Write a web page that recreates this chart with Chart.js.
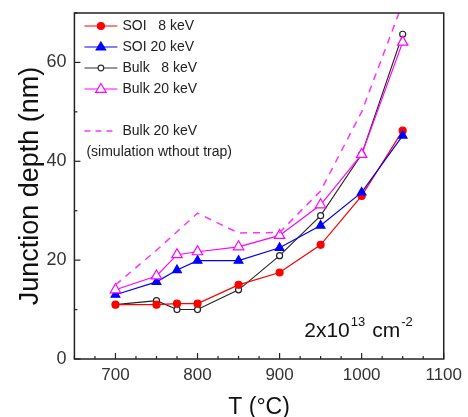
<!DOCTYPE html>
<html>
<head>
<meta charset="utf-8">
<script src="https://cdn.jsdelivr.net/npm/chart.js@4"></script>
<style>
  html, body { margin: 0; padding: 0; background: #fff; }
  #wrap { width: 468px; height: 417px; }
</style>
</head>
<body>
<div id="wrap"><canvas id="myChart" width="468" height="417"></canvas></div>
<script>
    // datos
    const temps = [700, 750, 775, 800, 850, 900, 950, 1000, 1050];
    const soi8 = [11.0, 11.0, 11.2, 11.2, 15.0, 17.5, 23.1, 33.0, 46.2];
    const soi20 = [13.0, 15.6, 18.0, 19.9, 19.9, 22.5, 27.0, 33.7, 45.2];
    const bulk8 = [11.0, 11.8, 10.0, 10.0, 14.0, 20.9, 29.0, 41.4, 65.7];
    const bulk20 = [14.0, 16.8, 21.1, 21.7, 22.7, 25.0, 31.2, 41.4, 64.1];
    const simTemps = [700, 750, 800, 850, 900, 950, 1000, 1050];
    const bulk20Sim = [15.0, 22.0, 29.5, 25.5, 25.6, 34.0, 50.0, 72.0];
    const xLabels = [700, 800, 900, 1000, 1100];
    const yLabels = [0, 20, 40, 60];

    const FONT = "'Liberation Sans', Arial, sans-serif";
    Chart.defaults.font.family = FONT;
    Chart.defaults.color = '#222';

    const pts = (xs, ys) => xs.map((x, i) => ({ x: x, y: ys[i] }));

    // leyenda, marco, ticks hacia adentro y la anotacion de dosis
    const extras = {
        id: 'extras',
        afterDraw(chart) {
            const c = chart.ctx;
            const a = chart.chartArea;
            const xs = chart.scales.x, ys = chart.scales.y;
            c.save();
            // marco
            c.strokeStyle = '#222';
            c.lineWidth = 1.5;
            c.strokeRect(a.left, a.top, a.right - a.left, a.bottom - a.top);
            // ticks
            c.lineWidth = 1.2;
            xs.ticks.forEach(t => {
                const px = xs.getPixelForValue(t.value);
                const len = t.value % 100 === 0 ? 6 : 3;
                c.beginPath(); c.moveTo(px, a.bottom); c.lineTo(px, a.bottom - len); c.stroke();
            });
            ys.ticks.forEach(t => {
                const py = ys.getPixelForValue(t.value);
                const len = t.value % 20 === 0 ? 6 : 3;
                c.beginPath(); c.moveTo(a.left, py); c.lineTo(a.left + len, py); c.stroke();
            });

            // leyenda
            const items = [
                { label: 'SOI   8 keV', color: '#ff0000', mark: 'circle', fill: true, r: 3.5 },
                { label: 'SOI 20 keV', color: '#0000ff', mark: 'tri', fill: true, r: 5 },
                { label: 'Bulk   8 keV', color: '#333333', mark: 'circle', fill: false, r: 2.8 },
                { label: 'Bulk 20 keV', color: '#ff00ff', mark: 'tri', fill: false, r: 5.5 },
                null,
                { label: 'Bulk 20 keV', color: '#ff33ff', dash: true }
            ];
            const lx0 = a.left + 10, lx1 = a.left + 43, tx = a.left + 48;
            let ty = a.top + 13;
            c.font = '14px ' + FONT;
            c.textBaseline = 'middle';
            items.forEach(it => {
                if (!it) { ty += 21; return; }
                c.strokeStyle = it.color;
                c.lineWidth = it.dash ? 1.5 : 1.2;
                c.setLineDash(it.dash ? [6, 5] : []);
                c.beginPath(); c.moveTo(lx0, ty); c.lineTo(lx1, ty); c.stroke();
                c.setLineDash([]);
                const mx = (lx0 + lx1) / 2;
                if (it.mark) {
                    c.fillStyle = it.fill ? it.color : '#fff';
                    c.beginPath();
                    if (it.mark === 'circle') {
                        c.arc(mx, ty, it.r, 0, Math.PI * 2);
                    } else {
                        c.moveTo(mx, ty - it.r);
                        c.lineTo(mx + it.r * 0.95, ty + it.r * 0.6);
                        c.lineTo(mx - it.r * 0.95, ty + it.r * 0.6);
                        c.closePath();
                    }
                    c.fill(); c.stroke();
                }
                c.fillStyle = '#222';
                c.fillText(it.label, tx, ty);
                ty += 21;
            });
            c.fillText('(simulation wthout trap)', a.left + 12, ty);

            // dosis 2x10^13 cm^-2
            const bx = xs.getPixelForValue(930), by = ys.getPixelForValue(4.5);
            c.textBaseline = 'alphabetic';
            c.fillStyle = '#111';
            c.font = '21px ' + FONT;
            let x = bx;
            c.fillText('2x10', x, by); x += c.measureText('2x10').width + 1;
            c.font = '13px ' + FONT;
            c.fillText('13', x, by - 11); x += c.measureText('13').width + 7;
            c.font = '21px ' + FONT;
            c.fillText('cm', x, by); x += c.measureText('cm').width + 1;
            c.font = '13px ' + FONT;
            c.fillText('-2', x, by - 11);
            c.restore();
        }
    };

    const ctx = document.getElementById('myChart').getContext('2d');
    const myChart = new Chart(ctx, {
        type: 'line',
        data: {
            datasets: [
                {
                    label: 'Bulk 20 keV (simulation)',
                    data: pts(simTemps, bulk20Sim),
                    borderColor: '#ff33ff',
                    borderWidth: 1.5,
                    borderDash: [7, 6],
                    pointRadius: 0,
                    fill: false
                },
                {
                    label: 'Bulk 20 keV',
                    data: pts(temps, bulk20),
                    borderColor: '#ff00ff',
                    backgroundColor: '#ffffff',
                    borderWidth: 1.2,
                    pointStyle: 'triangle',
                    pointRadius: 6,
                    pointBorderWidth: 1.2,
                    fill: false
                },
                {
                    label: 'SOI 20 keV',
                    data: pts(temps, soi20),
                    borderColor: '#0000ff',
                    backgroundColor: '#0000ff',
                    borderWidth: 1.2,
                    pointStyle: 'triangle',
                    pointRadius: 5,
                    fill: false
                },
                {
                    label: 'SOI 8 keV',
                    data: pts(temps, soi8),
                    borderColor: '#ff0000',
                    backgroundColor: '#ff0000',
                    borderWidth: 1.2,
                    pointStyle: 'circle',
                    pointRadius: 3.5,
                    fill: false
                },
                {
                    label: 'Bulk 8 keV',
                    data: pts(temps, bulk8),
                    borderColor: '#222222',
                    backgroundColor: '#ffffff',
                    borderWidth: 1.1,
                    pointStyle: 'circle',
                    pointRadius: 3,
                    pointBorderWidth: 1.2,
                    fill: false
                }
            ]
        },
        options: {
            responsive: false,
            animation: false,
            layout: { padding: { left: 14, right: 3, top: 13, bottom: 0 } },
            plugins: {
                legend: { display: false },
                tooltip: { enabled: false }
            },
            scales: {
                x: {
                    type: 'linear',
                    min: 650,
                    max: 1100,
                    border: { display: false },
                    grid: { display: false, drawTicks: false },
                    ticks: {
                        stepSize: 25,
                        autoSkip: false,
                        maxRotation: 0,
                        padding: 6,
                        font: { size: 17 },
                        color: '#333',
                        callback: v => xLabels.includes(v) ? String(v) : ''
                    },
                    title: {
                        display: true,
                        text: 'T (°C)',
                        font: { size: 23 },
                        color: '#111',
                        padding: { top: 2, bottom: -4 }
                    }
                },
                y: {
                    min: 0,
                    max: 70,
                    border: { display: false },
                    grid: { display: false, drawTicks: false },
                    afterFit: s => { s.paddingTop = 0; },
                    ticks: {
                        stepSize: 10,
                        autoSkip: false,
                        padding: 8,
                        font: { size: 18 },
                        color: '#333',
                        callback: v => yLabels.includes(v) ? String(v) : ''
                    },
                    title: {
                        display: true,
                        text: 'Junction depth (nm)',
                        font: { size: 27 },
                        color: '#111',
                        padding: { top: 0, bottom: -8 }
                    }
                }
            }
        },
        plugins: [extras]
    });
</script>
</body>
</html>
